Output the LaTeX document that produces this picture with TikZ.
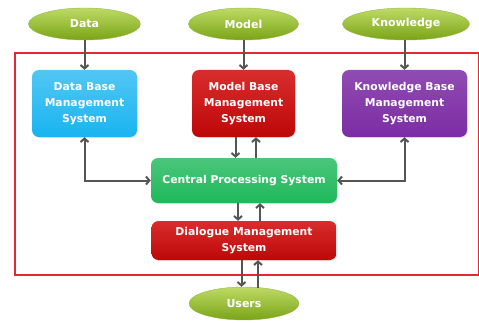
\documentclass[tikz,border=0pt]{standalone}
\usepackage{fontspec}
\setmainfont{DejaVu Sans}
\usepackage{tikz}
\usetikzlibrary{arrows,arrows.meta,shapes,positioning,shadows}
\usepackage{xcolor}
\definecolor{dsgreen}{RGB}{168,206,50}
\definecolor{dsgreendark}{RGB}{122,164,22}
\definecolor{dsblue}{RGB}{24,180,240}
\definecolor{dsred}{RGB}{210,8,8}
\definecolor{dspurple}{RGB}{124,44,164}
\definecolor{dscpu}{RGB}{30,184,90}
\definecolor{dsgray}{RGB}{85,85,85}
\definecolor{dsframe}{RGB}{228,40,50}
\tikzstyle{arrow} = [line width=2pt,->,>={Straight Barb[length=3.5pt,width=8pt]},color=dsgray]
\tikzstyle{source} = [ellipse, minimum width=112pt, minimum height=32pt, inner sep=0pt, text=white, font=\fontsize{11}{16}\selectfont\bfseries, top color=dsgreen!75!white, bottom color=dsgreendark, draw=dsgreendark!80, thin]
\tikzstyle{subsystem} = [rectangle, rounded corners=7pt, minimum width=105pt, minimum height=67pt, align=center, text=white, font=\fontsize{10.8}{16}\selectfont\bfseries, drop shadow={opacity=0.2,shadow xshift=1pt,shadow yshift=-1pt}]

\begin{document}
\begin{tikzpicture}[x=1pt,y=1pt]
\useasboundingbox (0,0) rectangle (479,322);
% Frame round the system
\draw[draw=dsframe, line width=1.1pt] (15,47) -- (478.5,47) -- (478.5,269) -- (15,269) -- cycle;

% Three sub systems
\node (dbms) [subsystem, top color=dsblue!75!white, bottom color=dsblue] at (84.5,218.5) {Data Base\\Management\\System};
\node (mbms) [subsystem, minimum width=103pt, top color=dsred!85!white, bottom color=dsred!90!black] at (243.5,218.5) {Model Base\\Management\\System};
\node (kbms) [subsystem, minimum width=125pt, top color=dspurple!85!white, bottom color=dspurple] at (404.5,218.5) {Knowledge Base\\Management\\System};

% Inputs
\node (data) [source, above of=dbms, node distance=79.5pt] {Data};
\node (model) [source, above of=mbms, node distance=79.5pt, minimum width=110pt] {Model};
\node (know) [source, above of=kbms, node distance=79.5pt, minimum width=127pt, xshift=1.5pt] {Knowledge};

% Processing and dialogue
\node (cps) [subsystem, below of=mbms, node distance=77pt, xshift=0.5pt, minimum width=186pt, minimum height=45pt, top color=dscpu!80!white, bottom color=dscpu] {Central Processing System};
\node (dms) [subsystem, below of=cps, node distance=60pt, minimum width=185pt, minimum height=39pt, top color=dsred!85!white, bottom color=dsred!90!black] {Dialogue Management\\System};
\node (users) [source, below of=dms, node distance=63pt, minimum width=110pt, minimum height=33pt] {Users};

% Connectors
\draw[arrow] (data) -- (dbms);
\draw[arrow] (model) -- (mbms);
\draw[arrow] (know.south -| kbms.south) -- (kbms);
\draw[arrow,<->] (dbms.south) |- (cps.west);
\draw[arrow,<->] (kbms.south) |- (cps.east);
\draw[arrow] ([xshift=-8pt]mbms.south) -- ([xshift=-8pt]mbms.south |- cps.north);
\draw[arrow] ([xshift=12.5pt]cps.north -| mbms.south) -- ([xshift=12.5pt]mbms.south);
\draw[arrow] ([xshift=-6pt]cps.south) -- ([xshift=-6pt]cps.south |- dms.north);
\draw[arrow] ([xshift=16pt]dms.north) -- ([xshift=16pt]cps.south);
\draw[arrow] ([xshift=-2.5pt]dms.south) -- ([xshift=-2.5pt]dms.south |- users.north);
\draw[arrow] ([xshift=14pt,yshift=-1pt]dms.south |- users.north) -- ([xshift=14pt]dms.south);
\end{tikzpicture}
\end{document}
